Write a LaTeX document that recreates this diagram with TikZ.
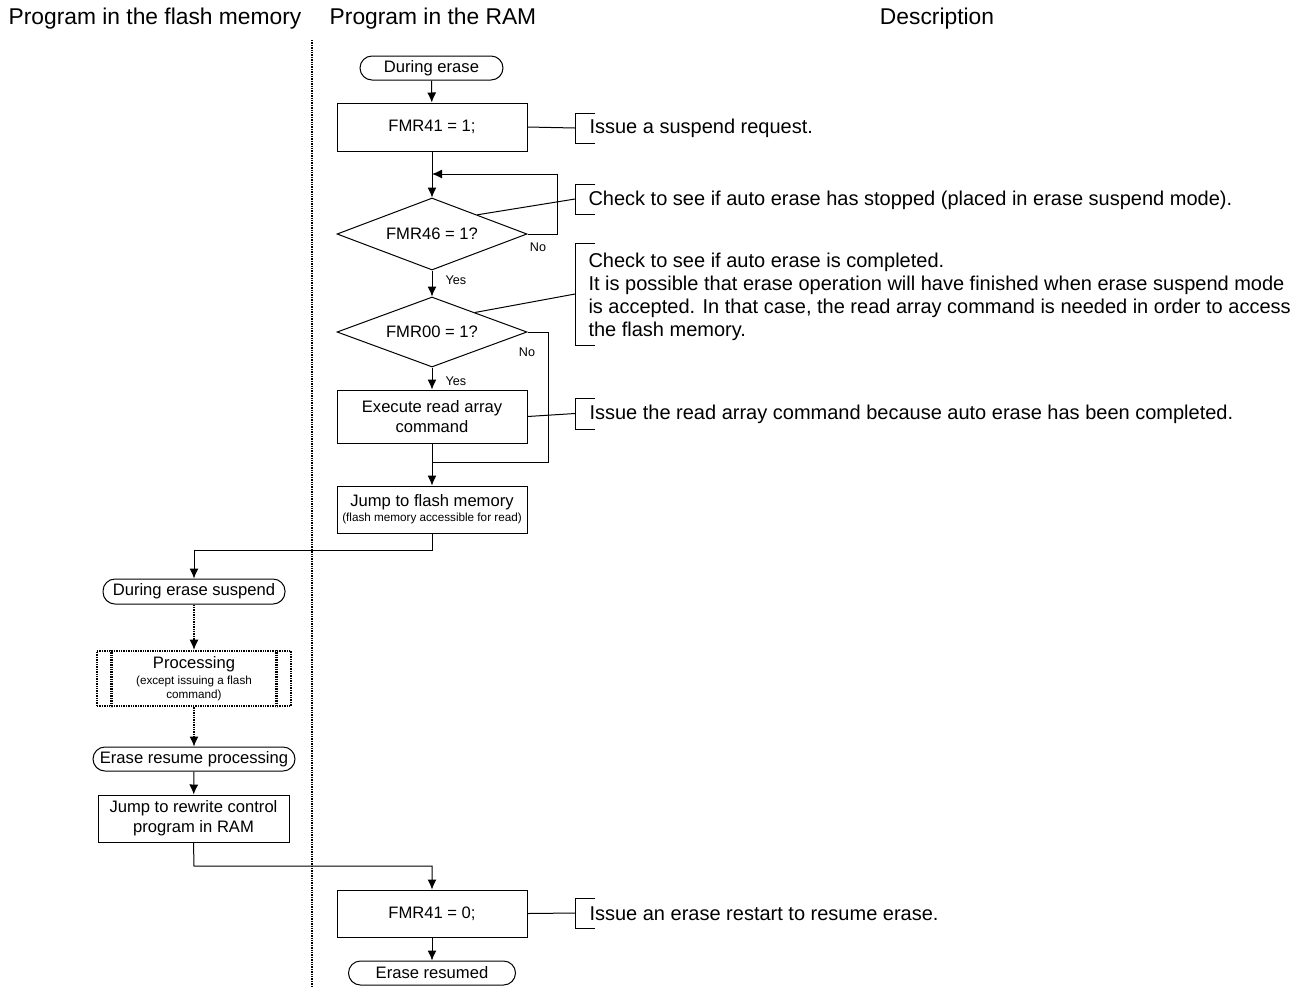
\documentclass[tikz,border=0pt]{standalone}
\usepackage{fontspec}
\setmainfont{Liberation Sans}
\usetikzlibrary{arrows.meta,shapes.geometric,calc}
\newcommand\ffhead{\fontsize{11.4}{13}\selectfont}
\newcommand\ffdesc{\fontsize{10}{11.5}\selectfont}
\newcommand\ffbox{\fontsize{8.3}{10}\selectfont}
\newcommand\ffsmall{\fontsize{5.85}{7}\selectfont}
\newcommand\fflabel{\fontsize{6.3}{7}\selectfont}
\begin{document}
\begin{tikzpicture}[x=0.5pt,y=-0.5pt,line width=0.5pt,
  every node/.style={inner sep=0pt,font=\ffbox},
  termbox/.style={draw,rounded corners=6pt,minimum height=12pt,align=center},
  stepbox/.style={draw,minimum width=95pt,align=center},
  decision/.style={draw,diamond,aspect=2.6,minimum width=95pt,minimum height=36pt},
  descr/.style={anchor=west,align=left,font=\ffdesc},
  yesno/.style={font=\fflabel},
  flow/.style={-{Latex[length=5pt,width=4.5pt]}},
  dotline/.style={line width=1.3pt,dash pattern=on 0.7pt off 0.5pt},
  dotflow/.style={dotline,-{Latex[length=5pt,width=4.5pt,line width=0.5pt]}}]
\useasboundingbox (0,0) rectangle (1310,986);

% column headings
\node[font=\ffhead] (h1) at (155,19) {Program in the flash memory};
\node[font=\ffhead] (h2) at (433,19) {Program in the RAM};
\node[font=\ffhead] (h3) at (937,19) {Description};

% divider between the flash-memory and RAM columns
\coordinate (divtop) at (312,40);
\coordinate (divbot) at (312,986);
\draw[dotline] (divtop) -- (divbot);

% RAM program
\node[termbox,minimum width=71.5pt] (start) at (431.5,68) {During erase};
\node[stepbox,minimum height=24pt] (set1) at (432,127) {FMR41 = 1;};
\node[decision] (d1) at (432,234) {FMR46 = 1?};
\node[decision,minimum height=35pt] (d2) at (432,332) {FMR00 = 1?};
\node[stepbox,minimum height=26.5pt] (exec) at (432,416.5) {Execute read array\\command};
\node[stepbox,minimum height=23.5pt] (jump) at (432,509.5)
  {Jump to flash memory\\[-2.5pt]{\ffsmall (flash memory accessible for read)}};

% flash-memory program
\node[termbox,minimum width=91pt,minimum height=12.5pt] (susp) at (194,591.5) {During erase suspend};
\node[draw,dotline,minimum width=97pt,minimum height=27.5pt,align=center] (proc) at (194,678.5)
  {Processing\\[-2pt]{\ffsmall (except issuing a flash}\\[-3pt]{\ffsmall command)}};
\draw[dotline] ([xshift=8pt]proc.north west) -- ([xshift=8pt]proc.south west);
\draw[dotline] ([xshift=-8pt]proc.north east) -- ([xshift=-8pt]proc.south east);
\node[termbox,minimum width=101pt] (resume) at (194,759) {Erase resume processing};
\node[draw,minimum width=95.5pt,minimum height=23.5pt,align=center] (jumpram) at (193.5,818.5)
  {Jump to rewrite control\\program in RAM};

% back in RAM
\node[stepbox,minimum height=23.5pt] (set0) at (432,913.5) {FMR41 = 0;};
\node[termbox,minimum width=83.5pt] (done) at (432,973) {Erase resumed};

% yes / no labels
\node[yesno] (no1) at (538,247) {No};
\node[yesno] (yes1) at (456,280) {Yes};
\node[yesno] (no2) at (527,352) {No};
\node[yesno] (yes2) at (456,381) {Yes};

% flow connectors
\coordinate (loopr) at (557,174);
\coordinate (loopin) at (432,174);
\coordinate (nob) at (548,462);
\coordinate (nojoin) at (432,462);
\coordinate (turn1) at (432,550);
\coordinate (turn2) at (194,550);
\coordinate (turn3) at (194,866);
\coordinate (turn4) at (432,866);

\draw[flow] (start) -- (set1);
\draw[flow] (set1) -- (d1);
\draw[flow] (d1.east) -| (loopr) -- (loopin);
\draw[flow] (d1) -- (d2);
\draw[flow] (d2) -- (exec);
\draw (d2.east) -| (nob) -- (nojoin);
\draw[flow] (exec) -- (jump);
\draw[flow] (jump.south) -- (turn1) -- (turn2) -- (susp.north);
\draw[dotflow] (susp) -- (proc);
\draw[dotflow] (proc) -- (resume);
\draw[flow] (resume) -- (jumpram);
\draw[flow] (jumpram.south) -- (turn3) -- (turn4) -- (set0.north);
\draw[flow] (set0) -- (done);

% description brackets
\coordinate (br1) at (575,128);
\coordinate (br2) at (575,199);
\coordinate (br3) at (575,294);
\coordinate (br4) at (575,413.5);
\coordinate (br5) at (575,913);
\foreach \b/\h in {br1/15,br2/15,br3/51,br4/15.5,br5/15}
  \draw ([shift={(20,-\h)}]\b) -- ++(-20,0) -- ++(0,2*\h) -- ++(20,0);

\draw (set1.east) -- (br1);
\draw ($(d1.north)!0.474!(d1.east)$) -- (br2);
\draw ($(d2.north)!0.45!(d2.east)$) -- (br3);
\draw (exec.east) -- (br4);
\draw (set0.east) -- (br5);

% descriptions
\node[descr] (t1) at (589,128) {Issue a suspend request.};
\node[descr] (t2) at (588,200) {Check to see if auto erase has stopped (placed in erase suspend mode).};
\node[descr] (t3) at (588,296.5) {Check to see if auto erase is completed.\\
  It is possible that erase operation will have finished when erase suspend mode\\
  is accepted. In that case, the read array command is needed in order to access\\
  the flash memory.};
\node[descr] (t4) at (589,414) {Issue the read array command because auto erase has been completed.};
\node[descr] (t5) at (589,914) {Issue an erase restart to resume erase.};
\end{tikzpicture}
\end{document}
